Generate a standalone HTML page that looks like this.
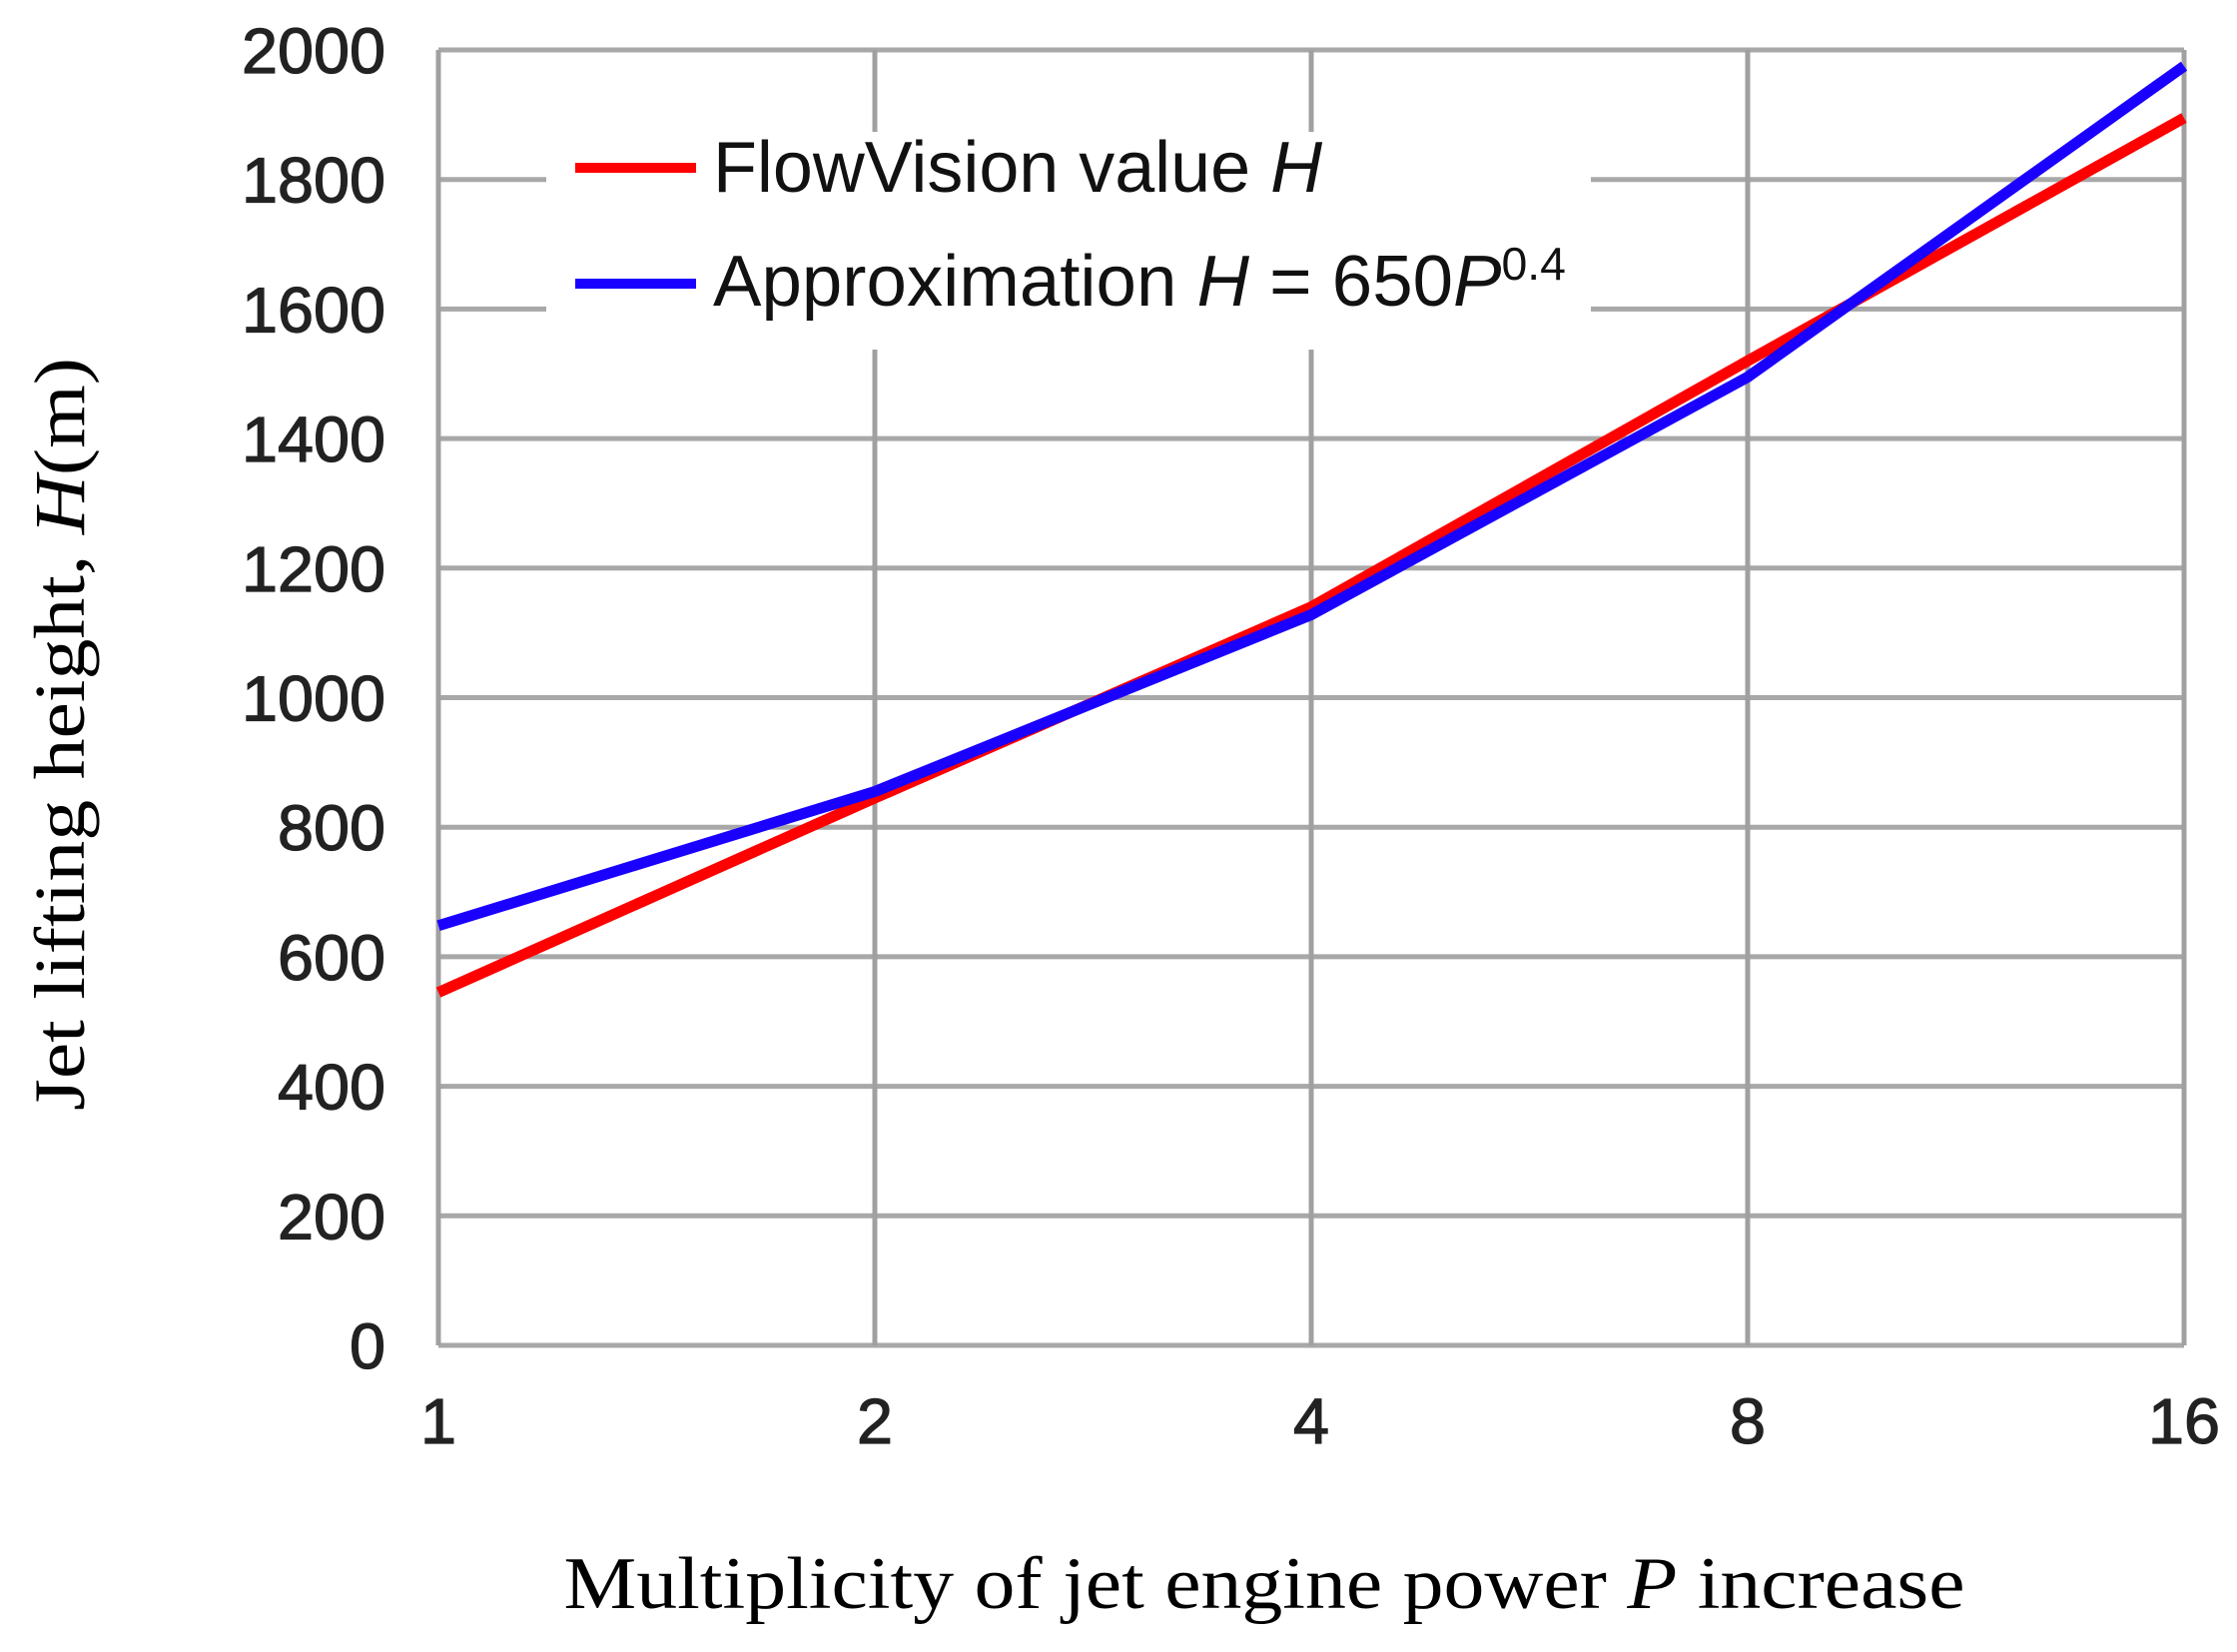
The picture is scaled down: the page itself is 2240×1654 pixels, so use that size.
<!DOCTYPE html>
<html><head><meta charset="utf-8"><style>html,body{margin:0;padding:0;background:#fff}svg{display:block}</style></head>
<body>
<svg id="chart" width="2240" height="1654" viewBox="0 0 2240 1654" xmlns="http://www.w3.org/2000/svg">
<g id="grid"></g>
<g id="ticks"></g>
<g id="series"></g>
<g id="legend">
  <rect x="547" y="132" width="1046" height="218" fill="#fff"/>
  <line x1="576" y1="168" x2="697" y2="168" stroke="#ff0000" stroke-width="10"/>
  <text x="714" y="192" font-family="Liberation Sans, sans-serif" font-size="72" fill="#111" textLength="610" lengthAdjust="spacingAndGlyphs">FlowVision value <tspan font-style="italic">H</tspan></text>
  <line x1="576" y1="284" x2="697" y2="284" stroke="#1a00ff" stroke-width="10"/>
  <text x="714" y="306" font-family="Liberation Sans, sans-serif" font-size="72" fill="#111" textLength="854" lengthAdjust="spacingAndGlyphs">Approximation <tspan font-style="italic">H</tspan> = 650<tspan font-style="italic">P</tspan><tspan font-size="46" dy="-26">0.4</tspan></text>
</g>
<text transform="translate(84,735) rotate(-90)" text-anchor="middle" font-family="Liberation Serif, serif" font-size="72" fill="#000" textLength="754" lengthAdjust="spacingAndGlyphs">Jet lifting height, <tspan font-style="italic">H</tspan>(m)</text>
<text x="1266" y="1610" text-anchor="middle" font-family="Liberation Serif, serif" font-size="74" fill="#000" textLength="1403" lengthAdjust="spacingAndGlyphs">Multiplicity of jet engine power <tspan font-style="italic">P</tspan> increase</text>
</svg>
<script>
const xCategories = [1, 2, 4, 8, 16];
const flowVisionValues = [545, 845, 1140, 1520, 1895];
const approximationValues = [648, 855, 1128, 1495, 1975];
const yTickLabels = [0, 200, 400, 600, 800, 1000, 1200, 1400, 1600, 1800, 2000];
const xTickLabels = ["1", "2", "4", "8", "16"];

const NS = "http://www.w3.org/2000/svg";
const L = 439, R = 2187, T = 50, B = 1347;
function xScale(p){ return L + (Math.log2(p) - Math.log2(1)) / (Math.log2(16) - Math.log2(1)) * (R - L); }
function yScale(v){ return B - v / 2000 * (B - T); }
function mk(tag, attrs, parent){ const e = document.createElementNS(NS, tag); for (const k in attrs) e.setAttribute(k, attrs[k]); parent.appendChild(e); return e; }

const grid = document.getElementById('grid');
const ticks = document.getElementById('ticks');
const series = document.getElementById('series');

yTickLabels.forEach(v => {
  const y = yScale(v);
  const ln = mk('line', {x1: L, x2: R, y1: y, y2: y, stroke: '#a8a8a8', 'stroke-width': 5}, grid);
  
  
  const t = mk('text', {x: 386, y: y + 23, 'text-anchor': 'end', 'font-family': 'Liberation Sans, sans-serif', 'font-size': 64, 'stroke': '#222', 'stroke-width': 1.2, fill: '#222', textLength: String(v).length * 36, lengthAdjust: 'spacingAndGlyphs'}, ticks);
  t.textContent = v;
  
  
});
xCategories.forEach((p, i) => {
  const x = xScale(p);
  const ln = mk('line', {x1: x, x2: x, y1: T, y2: B, stroke: '#a0a0a0', 'stroke-width': 5}, grid);
  
  
  const t = mk('text', {x: x, y: 1445, 'text-anchor': 'middle', 'font-family': 'Liberation Sans, sans-serif', 'font-size': 64, 'stroke': '#222', 'stroke-width': 1.2, fill: '#222', textLength: String(xTickLabels[i]).length * 36, lengthAdjust: 'spacingAndGlyphs'}, ticks);
  t.textContent = xTickLabels[i];
  
  
});

function drawLine(vals, color, name){
  const d = vals.map((v, i) => (i ? 'L' : 'M') + xScale(xCategories[i]).toFixed(1) + ' ' + yScale(v).toFixed(1)).join(' ');
  const p = mk('path', {d: d, fill: 'none', stroke: color, 'stroke-width': 11, 'stroke-linejoin': 'round'}, series);
  
  
}
drawLine(flowVisionValues, '#ff0000', 'flowvision-line');
drawLine(approximationValues, '#1a00ff', 'approximation-line');
</script>
</body></html>
